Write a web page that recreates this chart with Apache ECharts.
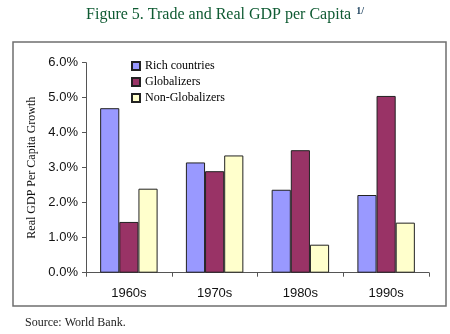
<!DOCTYPE html>
<html><head><meta charset="utf-8">
<script src="https://cdn.jsdelivr.net/npm/echarts@6/dist/echarts.min.js"></script>
<style>html,body{margin:0;padding:0;background:#fff}#c{width:450px;height:334px}</style>
</head><body><div id="c"></div>
<script>
const categories = ['1960s', '1970s', '1980s', '1990s'];
const richCountries = [4.7, 3.15, 2.37, 2.22];
const globalizers = [1.45, 2.9, 3.5, 5.05];
const nonGlobalizers = [2.4, 3.35, 0.8, 1.43];
const seriesNames = ['Rich countries', 'Globalizers', 'Non-Globalizers'];
const yTicks = [0, 1, 2, 3, 4, 5, 6];

const chart = echarts.init(document.getElementById('c'));
const colors = ['#9999FF', '#993366', '#FFFFCC'];
const dataSets = [richCountries, globalizers, nonGlobalizers];
chart.setOption({
  animation: false,
  title: {
    text: '{t|Figure 5. Trade and Real GDP per Capita} {s|1/}',
    left: 'center', top: 1,
    textStyle: {
      fontWeight: 'normal',
      rich: {
        t: { fontFamily: 'Liberation Serif', fontSize: 16, fontWeight: 'normal', color: '#0E5A32' },
        s: { fontFamily: 'Liberation Serif', fontSize: 10, fontWeight: 'bold', color: '#1A3F5C', verticalAlign: 'top', padding: [0,0,8,0] }
      }
    }
  },
  graphic: [
    { type: 'rect', shape: { x: 13, y: 42, width: 433, height: 264 }, style: { fill: 'none', stroke: '#6f6f6f', lineWidth: 1.5 }, z: 0 },
    { type: 'text', left: 25, top: 317, style: { text: 'Source: World Bank.', font: '12px "Liberation Serif"', fill: '#222' } }
  ],
  legend: {
    orient: 'vertical', left: 126, top: 54,
    data: seriesNames,
    icon: 'rect', itemWidth: 8, itemHeight: 8, itemGap: 2,
    textStyle: { fontFamily: 'Liberation Serif', fontSize: 12, color: '#000', lineHeight: 14 }
  },
  grid: { left: 86, right: 21, top: 62.7, bottom: 61.3 },
  xAxis: {
    type: 'category', data: categories,
    axisLine: { lineStyle: { color: '#555', width: 1 } },
    axisTick: { show: true, length: 4, lineStyle: { color: '#555' } },
    axisLabel: { fontFamily: 'Liberation Sans', fontSize: 13, color: '#111', margin: 14 }
  },
  yAxis: {
    type: 'value', min: 0, max: 6, interval: 1,
    name: 'Real GDP Per Capita Growth', nameLocation: 'middle', nameGap: 47,
    nameTextStyle: { fontFamily: 'Liberation Serif', fontSize: 12, color: '#111' },
    axisLine: { show: true, lineStyle: { color: '#555' } },
    axisTick: { show: true, length: 4, lineStyle: { color: '#555' } },
    splitLine: { show: false },
    axisLabel: { fontFamily: 'Liberation Sans', fontSize: 13, color: '#111', margin: 8,
      formatter: v => yTicks.includes(v) ? v.toFixed(1) + '%' : '' }
  },
  series: seriesNames.map((n, i) => ({
    name: n, type: 'bar', data: dataSets[i],
    barGap: '0%', barCategoryGap: '33%',
    itemStyle: { color: colors[i], borderColor: '#222', borderWidth: 1 }
  }))
});
</script></body></html>
